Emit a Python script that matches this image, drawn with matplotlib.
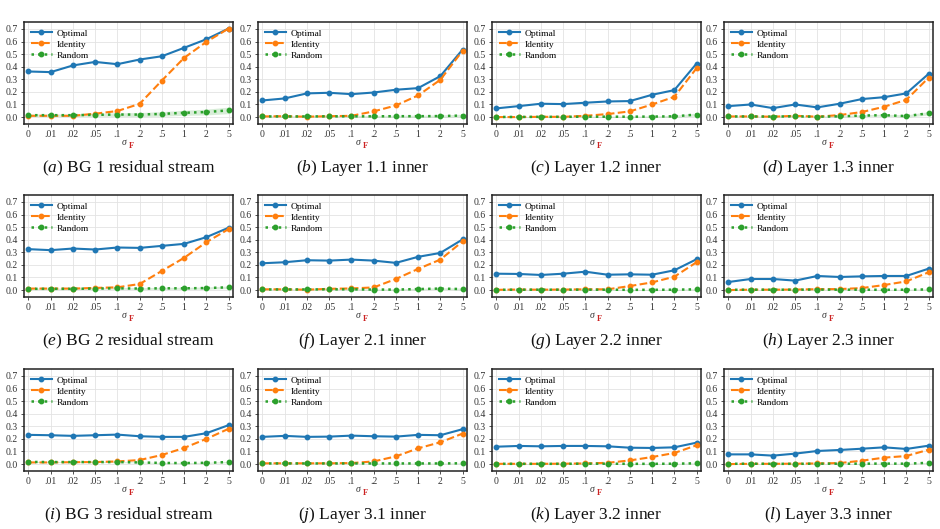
import matplotlib
matplotlib.use("Agg")
import matplotlib.pyplot as plt
import numpy as np

plt.rcParams['font.family'] = ['Liberation Serif', 'DejaVu Serif']
plt.rcParams['mathtext.fontset'] = 'custom'
plt.rcParams['mathtext.rm'] = 'Liberation Serif'
plt.rcParams['mathtext.it'] = 'Liberation Serif:italic'
plt.rcParams['mathtext.bf'] = 'Liberation Serif:bold'

x_labels = ['0', '.01', '.02', '.05', '.1', '.2', '.5', '1', '2', '5']
y_ticks = [0.0, 0.1, 0.2, 0.3, 0.4, 0.5, 0.6, 0.7]
series_names = ['Optimal', 'Identity', 'Random']

captions = [
    '(a)', 'BG 1 residual stream',
    '(b)', 'Layer 1.1 inner',
    '(c)', 'Layer 1.2 inner',
    '(d)', 'Layer 1.3 inner',
    '(e)', 'BG 2 residual stream',
    '(f)', 'Layer 2.1 inner',
    '(g)', 'Layer 2.2 inner',
    '(h)', 'Layer 2.3 inner',
    '(i)', 'BG 3 residual stream',
    '(j)', 'Layer 3.1 inner',
    '(k)', 'Layer 3.2 inner',
    '(l)', 'Layer 3.3 inner',
]

optimal = [
    [0.362, 0.357, 0.410, 0.438, 0.420, 0.457, 0.483, 0.550, 0.618, 0.703],
    [0.132, 0.148, 0.188, 0.193, 0.182, 0.195, 0.217, 0.230, 0.325, 0.536],
    [0.069, 0.087, 0.106, 0.103, 0.114, 0.124, 0.127, 0.177, 0.214, 0.425],
    [0.087, 0.100, 0.071, 0.100, 0.077, 0.106, 0.143, 0.158, 0.188, 0.343],
    [0.325, 0.317, 0.330, 0.322, 0.338, 0.335, 0.351, 0.367, 0.420, 0.495],
    [0.213, 0.221, 0.237, 0.234, 0.242, 0.234, 0.216, 0.264, 0.295, 0.402],
    [0.130, 0.128, 0.120, 0.130, 0.146, 0.122, 0.125, 0.122, 0.157, 0.245],
    [0.064, 0.088, 0.088, 0.075, 0.112, 0.104, 0.109, 0.112, 0.112, 0.170],
    [0.232, 0.229, 0.224, 0.229, 0.234, 0.221, 0.216, 0.216, 0.245, 0.309],
    [0.216, 0.224, 0.216, 0.218, 0.226, 0.221, 0.218, 0.232, 0.229, 0.277],
    [0.138, 0.144, 0.141, 0.144, 0.144, 0.141, 0.130, 0.128, 0.133, 0.170],
    [0.077, 0.077, 0.067, 0.083, 0.104, 0.112, 0.122, 0.133, 0.120, 0.146],
]

identity = [
    [0.010, 0.010, 0.010, 0.027, 0.048, 0.105, 0.290, 0.470, 0.597, 0.703],
    [0.005, 0.007, 0.003, 0.007, 0.010, 0.045, 0.092, 0.172, 0.296, 0.526],
    [0.000, 0.000, 0.002, 0.002, 0.010, 0.024, 0.045, 0.100, 0.161, 0.388],
    [0.005, 0.005, 0.003, 0.010, 0.003, 0.016, 0.040, 0.082, 0.137, 0.312],
    [0.012, 0.012, 0.012, 0.017, 0.022, 0.048, 0.152, 0.256, 0.380, 0.484],
    [0.006, 0.006, 0.003, 0.010, 0.013, 0.021, 0.088, 0.168, 0.242, 0.386],
    [0.002, 0.004, 0.003, 0.004, 0.006, 0.006, 0.032, 0.061, 0.106, 0.221],
    [0.000, 0.003, 0.003, 0.004, 0.007, 0.008, 0.016, 0.040, 0.069, 0.141],
    [0.013, 0.013, 0.015, 0.016, 0.021, 0.032, 0.072, 0.128, 0.200, 0.280],
    [0.006, 0.006, 0.006, 0.006, 0.008, 0.021, 0.061, 0.125, 0.173, 0.242],
    [0.002, 0.002, 0.002, 0.003, 0.005, 0.010, 0.029, 0.056, 0.088, 0.149],
    [0.000, 0.002, 0.002, 0.003, 0.005, 0.008, 0.027, 0.051, 0.064, 0.114],
]

random_mean = [
    [0.015, 0.015, 0.015, 0.018, 0.020, 0.020, 0.025, 0.034, 0.040, 0.053],
    [0.005, 0.005, 0.005, 0.006, 0.006, 0.006, 0.007, 0.007, 0.008, 0.012],
    [0.001, 0.001, 0.002, 0.002, 0.003, 0.003, 0.003, 0.004, 0.006, 0.020],
    [0.005, 0.005, 0.004, 0.006, 0.003, 0.006, 0.012, 0.015, 0.008, 0.030],
    [0.010, 0.010, 0.010, 0.012, 0.014, 0.012, 0.014, 0.014, 0.016, 0.022],
    [0.005, 0.005, 0.005, 0.006, 0.006, 0.004, 0.004, 0.008, 0.012, 0.008],
    [0.002, 0.003, 0.003, 0.003, 0.003, 0.003, 0.002, 0.002, 0.003, 0.006],
    [0.002, 0.003, 0.003, 0.003, 0.004, 0.003, 0.003, 0.002, 0.003, 0.005],
    [0.017, 0.016, 0.016, 0.016, 0.016, 0.013, 0.009, 0.008, 0.010, 0.016],
    [0.005, 0.005, 0.005, 0.005, 0.005, 0.005, 0.005, 0.005, 0.005, 0.006],
    [0.002, 0.002, 0.002, 0.002, 0.003, 0.003, 0.002, 0.002, 0.003, 0.006],
    [0.002, 0.003, 0.002, 0.002, 0.003, 0.003, 0.003, 0.004, 0.003, 0.010],
]

random_band = [
    [0.010, 0.010, 0.011, 0.012, 0.014, 0.016, 0.018, 0.020, 0.023, 0.026],
    [0.006, 0.006, 0.006, 0.006, 0.007, 0.007, 0.008, 0.008, 0.009, 0.011],
    [0.003, 0.003, 0.003, 0.004, 0.004, 0.005, 0.005, 0.006, 0.008, 0.012],
    [0.004, 0.004, 0.004, 0.005, 0.005, 0.006, 0.007, 0.008, 0.010, 0.013],
    [0.006, 0.006, 0.006, 0.006, 0.007, 0.007, 0.008, 0.008, 0.009, 0.010],
    [0.004, 0.004, 0.004, 0.005, 0.005, 0.005, 0.006, 0.006, 0.007, 0.008],
    [0.002, 0.002, 0.002, 0.002, 0.003, 0.003, 0.003, 0.003, 0.004, 0.005],
    [0.002, 0.002, 0.002, 0.002, 0.003, 0.003, 0.003, 0.003, 0.004, 0.005],
    [0.004, 0.004, 0.004, 0.004, 0.004, 0.004, 0.004, 0.004, 0.004, 0.005],
    [0.002, 0.002, 0.002, 0.002, 0.002, 0.002, 0.003, 0.003, 0.003, 0.004],
    [0.002, 0.002, 0.002, 0.002, 0.002, 0.002, 0.003, 0.003, 0.003, 0.004],
    [0.002, 0.002, 0.002, 0.002, 0.002, 0.002, 0.003, 0.003, 0.003, 0.004],
]

W, H = 940, 529
fig = plt.figure(figsize=(W / 100, H / 100), dpi=100)

col_left = [24, 258, 492, 724]
row_top = [22, 195, 369]
ax_w, ax_h = 209, 102

blue, orange, green = '#1f77b4', '#ff7f0e', '#2ca02c'
xs = np.arange(len(x_labels))

for i in range(12):
    r, c = divmod(i, 4)
    left = col_left[c] / W
    bottom = 1 - (row_top[r] + ax_h) / H
    ax = fig.add_axes([left, bottom, ax_w / W, ax_h / H])
    ax.grid(True, color='#e3e3e3', linewidth=0.6)
    ax.set_axisbelow(True)
    lo = np.array(random_mean[i]) - np.array(random_band[i])
    hi = np.array(random_mean[i]) + np.array(random_band[i])
    ax.fill_between(xs, lo, hi, color=green, alpha=0.18, linewidth=0)
    ax.plot(xs, optimal[i], '-', color=blue, lw=1.5, marker='o', ms=3.2, label=series_names[0])
    ax.plot(xs, identity[i], '--', color=orange, lw=1.5, marker='o', ms=3.2, label=series_names[1])
    ax.plot(xs, random_mean[i], ':', color=green, lw=1.8, marker='o', ms=3.2, label=series_names[2])
    ax.set_xlim(-0.2, 9.2)
    ax.set_ylim(-0.055, 0.755)
    ax.set_yticks(y_ticks)
    ax.set_yticklabels(['%.1f' % v for v in y_ticks])
    ax.set_xticks(xs)
    ax.set_xticklabels(x_labels)
    ax.tick_params(labelsize=7, length=2.5, width=0.6, colors='#333333', pad=2)
    for s in ax.spines.values():
        s.set_color('#222222')
        s.set_linewidth(1.1)
    ax.legend(loc='upper left', frameon=False, fontsize=6.8, handlelength=2.2,
              numpoints=1, labelspacing=0.25, borderaxespad=0.35, handletextpad=0.5,
              bbox_to_anchor=(0.0, 1.0))
    # x label: sigma with red F subscript
    ax.text(0.5, -0.175, r'$\sigma$', transform=ax.transAxes, ha='right', va='center',
            fontsize=7, color='#333333')
    ax.text(0.5, -0.205, r'$\mathbf{F}$', transform=ax.transAxes, ha='left', va='center',
            fontsize=6, color='#cc2222')
    # caption
    cx = (col_left[c] + ax_w / 2) / W
    cy = 1 - (row_top[r] + ax_h + 44) / H
    fig.text(cx, cy, r'$\mathit{' + captions[2 * i] + r'}$ ' + captions[2 * i + 1],
             ha='center', va='center', fontsize=12.5, color='#111111')

fig.savefig('out.png', dpi=100)
